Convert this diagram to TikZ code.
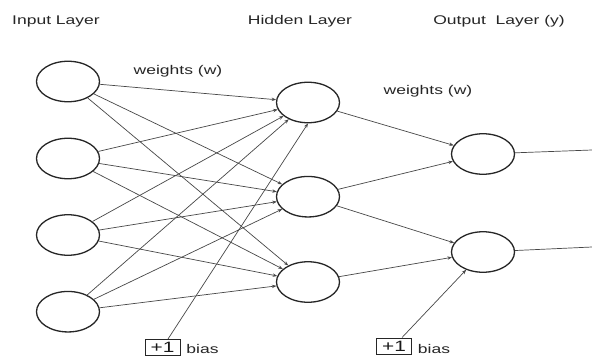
\documentclass[tikz,border=0pt]{standalone}
\usepackage{fontspec}
\setmainfont{Liberation Sans}[FakeStretch=1.39]
\usetikzlibrary{shapes.geometric,arrows.meta}
\begin{document}
\begin{tikzpicture}[x=1pt,y=-1pt,
  neuron/.style={draw=black!85, line width=1.3pt, ellipse, minimum width=63pt, minimum height=40.5pt, inner sep=0pt},
  conn/.style={draw=black!72, line width=0.7pt, -{Stealth[length=4.5pt,width=3.4pt]}},
  plain/.style={draw=black!72, line width=0.7pt},
  lbl/.style={font=\fontsize{12.6}{14}\selectfont, text=black!85, anchor=base, inner sep=0pt},
  biasbox/.style={draw=black!85, line width=1pt, minimum width=35pt, minimum height=16pt, inner sep=0pt, font=\fontsize{15}{16}\selectfont, text=black!90},
]
\useasboundingbox[fill=white] (0,0) rectangle (592,356);
% titles
\node[lbl] (tin) at (56,24) {Input Layer};
\node[lbl] (thid) at (300,24) {Hidden Layer};
\node[lbl] (tout) at (499,24) {Output\ \ Layer (y)};
\node[lbl] (w1) at (178,74) {weights (w)};
\node[lbl] (w2) at (428,94) {weights (w)};
% neurons
\node[neuron] (I1) at (68,81.5) {};
\node[neuron] (I2) at (68,158.5) {};
\node[neuron] (I3) at (68,235) {};
\node[neuron] (I4) at (68,311.7) {};
\node[neuron] (H1) at (308,102.5) {};
\node[neuron] (H2) at (308,196.7) {};
\node[neuron] (H3) at (308,282) {};
\node[neuron] (O1) at (483,154) {};
\node[neuron] (O2) at (483,252) {};
% bias
\node[biasbox] (b1) at (162.5,347.5) {+1};
\node[lbl] (bt1) at (202.5,353) {bias};
\node[biasbox] (b2) at (394,346) {+1};
\node[lbl] (bt2) at (434,353) {bias};
% outputs
\coordinate (y1) at (592,150);
\coordinate (y2) at (592,247);
% connections
\foreach \i in {1,2,3,4}{
  \foreach \j in {1,2,3}{
    \draw[conn] (I\i) -- (H\j);
  }
}
\draw[conn] (b1) -- (H1.south);
\draw[conn] (H1) -- (O1);
\draw[conn] (H2) -- (O1);
\draw[conn] (H2) -- (O2);
\draw[conn] (H3) -- (O2);
\draw[conn] (b2) -- (O2);
\draw[plain] (O1) -- (y1);
\draw[plain] (O2) -- (y2);
\end{tikzpicture}
\end{document}
